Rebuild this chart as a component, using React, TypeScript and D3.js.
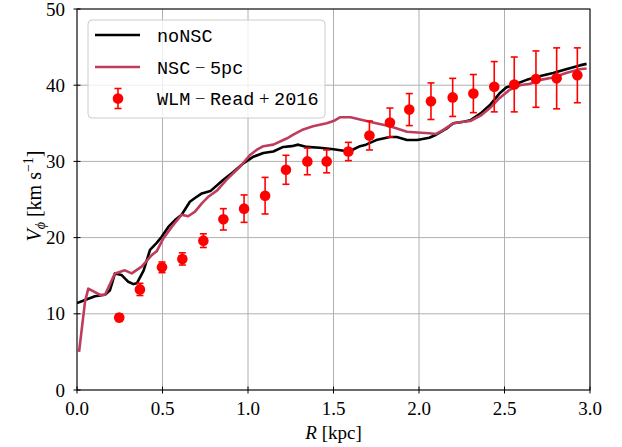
import React from "react";
import * as d3 from "d3";

const noNscR = [0, 0.047, 0.105, 0.164, 0.193, 0.222, 0.26, 0.30, 0.33, 0.35, 0.39, 0.427, 0.466, 0.495, 0.534, 0.573, 0.612, 0.66, 0.69, 0.73, 0.78, 0.856, 0.914, 0.97, 1.03, 1.09, 1.148, 1.206, 1.255, 1.294, 1.343, 1.42, 1.5, 1.56, 1.6, 1.655, 1.69, 1.75, 1.83, 1.87, 1.93, 1.99, 2.06, 2.1, 2.16, 2.2, 2.26, 2.3, 2.36, 2.415, 2.47, 2.51, 2.57, 2.63, 2.71, 2.785, 2.86, 2.94, 2.98];
const noNscV = [11.4, 11.8, 12.3, 12.5, 13.1, 15.3, 15.1, 14.2, 13.9, 14.0, 15.7, 18.4, 19.3, 20.1, 21.4, 22.3, 23.0, 24.7, 25.2, 25.8, 26.1, 27.6, 28.6, 29.7, 30.6, 31.1, 31.3, 31.9, 32.0, 32.2, 31.9, 31.8, 31.6, 31.4, 31.4, 32.0, 32.2, 32.8, 33.2, 33.2, 32.8, 32.8, 33.1, 33.5, 34.3, 35.0, 35.2, 35.4, 36.3, 37.4, 38.9, 39.7, 40.2, 40.7, 41.2, 41.6, 42.1, 42.6, 42.8];

const nscR = [0.012, 0.047, 0.066, 0.134, 0.164, 0.222, 0.28, 0.32, 0.378, 0.437, 0.466, 0.505, 0.554, 0.612, 0.65, 0.69, 0.73, 0.77, 0.82, 0.875, 0.953, 1.01, 1.05, 1.09, 1.148, 1.226, 1.265, 1.323, 1.38, 1.46, 1.5, 1.54, 1.6, 1.674, 1.75, 1.83, 1.93, 1.99, 2.06, 2.1, 2.14, 2.2, 2.26, 2.3, 2.36, 2.415, 2.47, 2.53, 2.59, 2.65, 2.71, 2.785, 2.86, 2.94, 2.98];
const nscV = [5.0, 11.6, 13.3, 12.5, 12.5, 15.3, 15.7, 15.3, 16.2, 17.7, 18.2, 19.9, 21.4, 23.0, 22.8, 23.4, 24.5, 25.4, 26.2, 27.6, 29.3, 30.8, 31.5, 32.0, 32.2, 33.0, 33.5, 34.2, 34.6, 35.0, 35.3, 35.8, 35.8, 35.4, 35.0, 34.6, 33.9, 33.8, 33.7, 33.6, 34.1, 35.0, 35.2, 35.3, 36.0, 37.0, 38.3, 39.4, 40.0, 40.2, 40.7, 41.0, 41.6, 42.1, 42.2];

const obsR = [0.247, 0.368, 0.497, 0.616, 0.739, 0.856, 0.977, 1.1, 1.222, 1.347, 1.46, 1.587, 1.71, 1.83, 1.943, 2.07, 2.197, 2.318, 2.44, 2.557, 2.684, 2.805, 2.926];
const obsV = [9.5, 13.2, 16.1, 17.2, 19.6, 22.4, 23.8, 25.5, 28.9, 30.0, 30.0, 31.3, 33.4, 35.1, 36.8, 37.9, 38.4, 38.9, 39.8, 40.1, 40.8, 40.9, 41.3];
const obsErr = [0.5, 0.8, 0.7, 0.8, 0.9, 1.4, 1.8, 2.4, 1.9, 1.75, 1.5, 1.2, 1.9, 1.9, 2.1, 2.4, 2.5, 2.5, 3.3, 3.6, 3.7, 4.0, 3.6];

const xTicks = [0, 0.5, 1.0, 1.5, 2.0, 2.5, 3.0];
const yTicks = [0, 10, 20, 30, 40, 50];

const W = 622, H = 447;
const L = 77, R = 590, T = 9, B = 390;
const BLACK = "#000000";
const NSC = "#bf3c5c";
const OBS = "#ff0000";

export default function App() {
  const x = d3.scaleLinear().domain([0, 3]).range([L, R]);
  const y = d3.scaleLinear().domain([0, 50]).range([B, T]);
  const line = d3.line<[number, number]>().x(d => x(d[0])).y(d => y(d[1])).curve(d3.curveLinear);
  const blackPath = line(noNscR.map((r, i) => [r, noNscV[i]]))!;
  const nscPath = line(nscR.map((r, i) => [r, nscV[i]]))!;
  const serif = "'Liberation Serif', 'Times New Roman', serif";
  const mono = "'Liberation Mono', 'DejaVu Sans Mono', monospace";

  const legX = 88, legY = 20, legW = 237, legH = 98;
  const entryY = [35, 67, 98.5];

  return (
    <svg width={W} height={H} style={{ position: "absolute", left: 0, top: 0, background: "#fff" }}>
      <rect x={0} y={0} width={W} height={H} fill="#fff" />
      <defs>
        <clipPath id="clip">
          <rect x={L} y={T} width={R - L} height={B - T} />
        </clipPath>
      </defs>
      {/* grid */}
      {xTicks.map(t => (
        <line key={"gx" + t} x1={x(t)} x2={x(t)} y1={T} y2={B} stroke="#b0b0b0" strokeWidth={1} />
      ))}
      {yTicks.map(t => (
        <line key={"gy" + t} x1={L} x2={R} y1={y(t)} y2={y(t)} stroke="#b0b0b0" strokeWidth={1} />
      ))}
      <g clipPath="url(#clip)">
        <path d={blackPath} fill="none" stroke={BLACK} strokeWidth={2.6} strokeLinejoin="round" />
        <path d={nscPath} fill="none" stroke={NSC} strokeWidth={2.6} strokeLinejoin="round" />
        {obsR.map((r, i) => {
          const cx = x(r);
          const y1 = y(obsV[i] + obsErr[i]);
          const y2 = y(obsV[i] - obsErr[i]);
          return (
            <g key={"o" + i}>
              <line x1={cx} x2={cx} y1={y1} y2={y2} stroke={OBS} strokeWidth={1.6} />
              <line x1={cx - 3.5} x2={cx + 3.5} y1={y1} y2={y1} stroke={OBS} strokeWidth={1.6} />
              <line x1={cx - 3.5} x2={cx + 3.5} y1={y2} y2={y2} stroke={OBS} strokeWidth={1.6} />
              <circle cx={cx} cy={y(obsV[i])} r={5.3} fill={OBS} />
            </g>
          );
        })}
      </g>
      {/* frame */}
      <rect x={L} y={T} width={R - L} height={B - T} fill="none" stroke="#000" strokeWidth={1} />
      {/* ticks */}
      {xTicks.map(t => (
        <g key={"tx" + t}>
          <line x1={x(t)} x2={x(t)} y1={B - 3.5} y2={B + 3.5} stroke="#000" strokeWidth={1} />
          <text x={x(t)} y={B + 25} textAnchor="middle" fontFamily={serif} fontSize={19} fill="#000">
            {d3.format(".1f")(t)}
          </text>
        </g>
      ))}
      {yTicks.map(t => (
        <g key={"ty" + t}>
          <line x1={L - 3.5} x2={L + 3.5} y1={y(t)} y2={y(t)} stroke="#000" strokeWidth={1} />
          <text x={L - 12} y={y(t) + 6.5} textAnchor="end" fontFamily={serif} fontSize={19} fill="#000">
            {t}
          </text>
        </g>
      ))}
      {/* axis labels */}
      <text x={(L + R) / 2} y={439} textAnchor="middle" fontFamily={serif} fontSize={19} fill="#000">
        <tspan fontStyle="italic">R</tspan> [kpc]
      </text>
      <text transform={`translate(41, ${196}) rotate(-90)`} textAnchor="middle" fontFamily={serif} fontSize={20} fill="#000">
        <tspan fontStyle="italic">V</tspan>
        <tspan fontStyle="italic" fontSize={14} dy={4}>ϕ</tspan>
        <tspan dy={-4}> [km s</tspan>
        <tspan fontSize={14} dy={-8}>−1</tspan>
        <tspan dy={8}>]</tspan>
      </text>
      {/* legend */}
      <rect x={legX} y={legY} width={legW} height={legH} rx={4} fill="#fff" fillOpacity={0.8} stroke="#cccccc" strokeWidth={1} />
      <line x1={95} x2={140} y1={entryY[0]} y2={entryY[0]} stroke={BLACK} strokeWidth={2.6} />
      <line x1={95} x2={140} y1={entryY[1]} y2={entryY[1]} stroke={NSC} strokeWidth={2.6} />
      <line x1={118} x2={118} y1={entryY[2] - 10} y2={entryY[2] + 10} stroke={OBS} strokeWidth={1.6} />
      <line x1={114.5} x2={121.5} y1={entryY[2] - 10} y2={entryY[2] - 10} stroke={OBS} strokeWidth={1.6} />
      <line x1={114.5} x2={121.5} y1={entryY[2] + 10} y2={entryY[2] + 10} stroke={OBS} strokeWidth={1.6} />
      <circle cx={118} cy={entryY[2]} r={5.3} fill={OBS} />
      <text x={157} y={entryY[0] + 6.5} fontFamily={mono} fontSize={18.5} fill="#000">noNSC</text>
      <text x={157} y={entryY[1] + 6.5} fontFamily={mono} fontSize={18.5} fill="#000">
        NSC<tspan fontFamily={serif}> − </tspan>5pc
      </text>
      <text x={157} y={entryY[2] + 6.5} fontFamily={mono} fontSize={18.5} fill="#000">
        WLM<tspan fontFamily={serif}> − </tspan>Read<tspan fontFamily={serif}> + </tspan>2016
      </text>
    </svg>
  );
}
